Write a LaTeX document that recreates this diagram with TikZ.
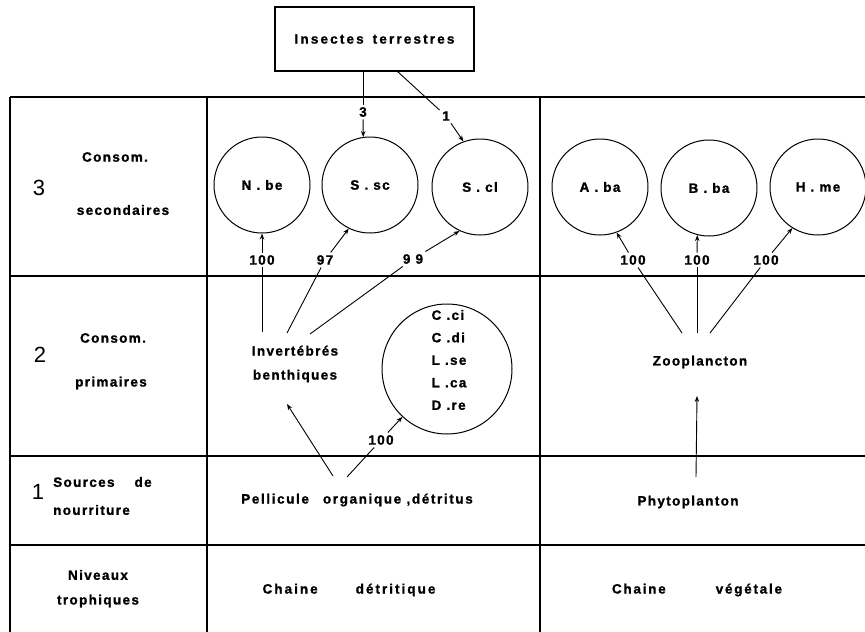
\documentclass[tikz,border=0pt]{standalone}
\usepackage{fontspec}
\setmainfont{Liberation Sans}
\newfontfamily\blk[LetterSpace=10,UprightFont=* Bold,BoldFont=* Bold,BoldFeatures={FakeBold=1.2}]{Liberation Sans}
\usetikzlibrary{arrows.meta}
\begin{document}
\begin{tikzpicture}[x=1pt,y=-1pt,
  txt/.style={font=\blk\bfseries\fontsize{13.5}{15}\selectfont, inner sep=1pt},
  wide/.style={font=\blk\bfseries\addfontfeatures{LetterSpace=#1}\fontsize{13.5}{15}\selectfont},
  num/.style={txt, inner sep=2.5pt},
  lvl/.style={font=\fontsize{22}{22}\selectfont, inner sep=0pt},
  species/.style={circle, draw, line width=1pt, minimum size=96pt, inner sep=0pt,
    font=\blk\bfseries\fontsize{13.5}{15}\selectfont},
  gridline/.style={line width=1.6pt},
  ln/.style={line width=0.9pt},
  arr/.style={line width=0.9pt, -{Stealth[length=6pt,width=4.5pt]}}]
\useasboundingbox (0,0) rectangle (865,632);

% table frame
\draw[gridline] (10,97) -- (865,97);
\draw[gridline] (10,276) -- (865,276);
\draw[gridline] (10,456) -- (865,456);
\draw[gridline] (10,545) -- (865,545);
\draw[gridline] (10,97) -- (10,632);
\draw[gridline] (207,97) -- (207,632);
\draw[gridline] (540,97) -- (540,632);

% row headings
\node[lvl] (n3) at (39,188) {3};
\node[txt] (h3a) at (115,157) {Consom.};
\node[txt] (h3b) at (123,210) {secondaires};
\node[lvl] (n2) at (40,355) {2};
\node[txt] (h2a) at (113,338) {Consom.};
\node[txt] (h2b) at (111,383) {primaires};
\node[lvl] (n1) at (38,492) {1};
\node[txt, anchor=west] (h1a) at (52,482) {Sources\hspace{20pt}de};
\node[txt, anchor=west] (h1b) at (52,510) {nourriture};
\node[txt] (h0a) at (98,575) {Niveaux};
\node[txt] (h0b) at (98,601) {trophiques};

% bottom row
\node[txt, wide=15] (ch1) at (349,590) {Chaine\hspace{38pt}détritique};
\node[txt, wide=13] (ch2) at (697,590) {Chaine\hspace{50pt}végétale};

% external source
\node[draw, line width=1.2pt, minimum width=199pt, minimum height=64pt, txt, wide=16] (ins)
  at (374.5,39) {Insectes\hspace{9pt}terrestres};

% consumers (level 3)
\node[species] (nbe) at (262,185) {N . be};
\node[species] (ssc) at (370,185) {S . sc};
\node[species] (scl) at (480,187) {S . cl};
\node[species] (aba) at (600,187) {A . ba};
\node[species] (bba) at (709,188) {B . ba};
\node[species] (hme) at (818,187) {H . me};

% level 2
\node[txt, align=center, font=\blk\bfseries\fontsize{13.5}{24}\selectfont] (inv)
  at (295,364) {Invertébrés\\benthiques};
\node[circle, draw, line width=1pt, minimum size=130pt] (grp) at (447,369) {};
\node[txt, align=left, font=\blk\bfseries\fontsize{13.5}{22.5}\selectfont] (grplist)
  at (449,360) {C .ci\\C .di\\L .se\\L .ca\\D .re};
\node[txt] (zoo) at (700,362) {Zooplancton};

% level 1
\node[txt, wide=12] (pel) at (357,500) {Pellicule\hspace{14pt}organique ,détritus};
\node[txt] (phy) at (688,502) {Phytoplanton};

% connector ends
\coordinate (i1) at (262,332);
\coordinate (i2) at (287,333);
\coordinate (i3) at (310,334);
\coordinate (p1) at (333,476);
\coordinate (p2) at (347,477);
\coordinate (it) at (287,404);
\coordinate (z1) at (682,333);
\coordinate (z2) at (697,333);
\coordinate (z3) at (710,333);
\coordinate (ph) at (696,477);
\coordinate (zt) at (697,396);
\coordinate (s3) at (363,71);
\coordinate (s1) at (397,71);

% flow labels
\node[num] (l3) at (363,112) {3};
\node[num] (l1) at (446,116) {1};
\node[num] (la) at (262,260) {100};
\node[num] (lb) at (325,260) {97};
\node[num] (lc) at (413,259) {9 9};
\node[num] (ld) at (381,440) {100};
\node[num] (le) at (633,260) {100};
\node[num] (lf) at (697,260) {100};
\node[num] (lg) at (766,260) {100};

% terrestrial inputs
\draw[ln] (s3) -- (l3);
\draw[arr] (l3) -- (ssc.98);
\draw[ln] (s1) -- (l1);
\draw[arr] (l1) -- (scl.110);

% benthic chain
\draw[ln] (i1) -- (la);
\draw[arr] (la) -- (nbe.270);
\draw[ln] (i2) -- (lb);
\draw[arr] (lb) -- (ssc.244);
\draw[ln] (i3) -- (lc);
\draw[arr] (lc) -- (scl.245);
\draw[arr] (p1) -- (it);
\draw[ln] (p2) -- (ld);
\draw[arr] (ld) -- (grp.227);

% planktonic chain
\draw[ln] (z1) -- (le);
\draw[arr] (le) -- (aba.290);
\draw[ln] (z2) -- (lf);
\draw[arr] (lf) -- (bba.256);
\draw[ln] (z3) -- (lg);
\draw[arr] (lg) -- (hme.238);
\draw[arr] (ph) -- (zt);
\end{tikzpicture}
\end{document}
